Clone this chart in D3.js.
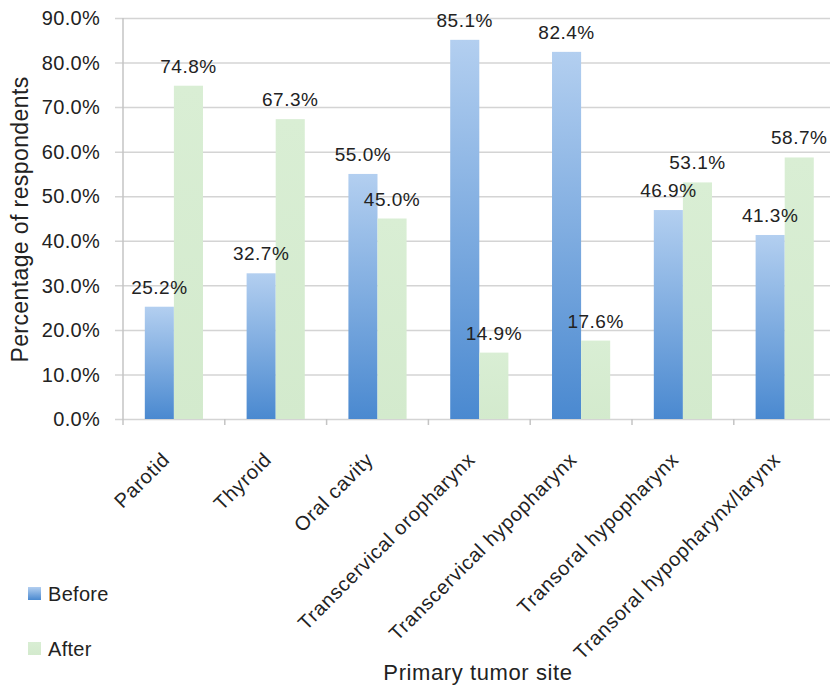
<!DOCTYPE html>
<html>
<head>
<meta charset="utf-8">
<script src="https://cdn.jsdelivr.net/npm/d3@7"></script>
<style>
  body { margin: 0; background: #fff; }
  text { font-family: "Liberation Sans", Arial, sans-serif; fill: #222; }
</style>
</head>
<body>
<svg id="chart" width="830" height="685"></svg>
<script>
const categories = [
  "Parotid",
  "Thyroid",
  "Oral cavity",
  "Transcervical oropharynx",
  "Transcervical hypopharynx",
  "Transoral hypopharynx",
  "Transoral hypopharynx/larynx",
];
const seriesNames = ["Before", "After"];
const beforeValues = [25.2, 32.7, 55.0, 85.1, 82.4, 46.9, 41.3];
const afterValues = [74.8, 67.3, 45.0, 14.9, 17.6, 53.1, 58.7];
const yTicks = [0, 10, 20, 30, 40, 50, 60, 70, 80, 90];

const svg = d3.select("#chart");
const plotLeft = 123, plotTop = 18, plotBottom = 419;
const step = 101.8;

const x0 = d3.scaleBand()
  .domain(categories)
  .range([plotLeft, plotLeft + step * categories.length])
  .padding(0);

const x1 = d3.scaleBand()
  .domain(seriesNames)
  .range([0, x0.bandwidth()])
  .paddingInner(0)
  .paddingOuter(0.75);

const y = d3.scaleLinear().domain([0, 90]).range([plotBottom, plotTop]);

// gradients
const defs = svg.append("defs");
const gBlue = defs.append("linearGradient")
  .attr("id", "blueGrad").attr("x1", 0).attr("y1", 0).attr("x2", 0).attr("y2", 1);
gBlue.append("stop").attr("offset", "0%").attr("stop-color", "#b3cff0");
gBlue.append("stop").attr("offset", "100%").attr("stop-color", "#4a89d0");
const gGreen = defs.append("linearGradient")
  .attr("id", "greenGrad").attr("x1", 0).attr("y1", 0).attr("x2", 0).attr("y2", 1);
gGreen.append("stop").attr("offset", "0%").attr("stop-color", "#d9eed4");
gGreen.append("stop").attr("offset", "100%").attr("stop-color", "#d3eacd");

// gridlines
svg.append("g")
  .attr("transform", `translate(${plotLeft},0)`)
  .call(d3.axisLeft(y).tickValues(yTicks).tickSize(-(830 - plotLeft)).tickSizeOuter(0).tickFormat(""))
  .call(g => g.select(".domain").remove())
  .call(g => g.selectAll(".tick line").attr("stroke", "#d4d4d4").attr("stroke-width", 1.5).attr("x1", -8));

// y axis line
svg.append("line")
  .attr("x1", plotLeft).attr("x2", plotLeft).attr("y1", plotTop).attr("y2", plotBottom)
  .attr("stroke", "#c4c4c4").attr("stroke-width", 1.5);

// y tick labels
svg.append("g")
  .selectAll("text")
  .data(yTicks)
  .join("text")
  .attr("x", 100)
  .attr("y", d => y(d))
  .attr("dy", "0.36em")
  .attr("text-anchor", "end")
  .style("font-size", "20px")
  .style("letter-spacing", "0.3px")
  .text(d => d3.format(".1f")(d) + "%");

// x axis ticks
const bounds = categories.map(c => x0(c)).concat([x0.range()[1]]);
svg.append("g")
  .selectAll("line")
  .data(bounds)
  .join("line")
  .attr("x1", d => d).attr("x2", d => d)
  .attr("y1", plotBottom).attr("y2", plotBottom + 6)
  .attr("stroke", "#c4c4c4").attr("stroke-width", 1.5);

// bars
const rows = categories.map((c, i) => ({ cat: c, Before: beforeValues[i], After: afterValues[i] }));
const groups = svg.append("g")
  .selectAll("g")
  .data(rows)
  .join("g")
  .attr("transform", d => `translate(${x0(d.cat)},0)`);

groups.selectAll("rect")
  .data(d => seriesNames.map(s => ({ s, v: d[s] })))
  .join("rect")
  .attr("x", d => x1(d.s))
  .attr("y", d => y(d.v))
  .attr("width", x1.bandwidth())
  .attr("height", d => plotBottom - y(d.v))
  .attr("fill", d => d.s === "Before" ? "url(#blueGrad)" : "url(#greenGrad)");

groups.selectAll("text")
  .data(d => seriesNames.map(s => ({ s, v: d[s] })))
  .join("text")
  .attr("x", d => x1(d.s) + x1.bandwidth() / 2)
  .attr("y", d => y(d.v) - 13)
  .attr("text-anchor", "middle")
  .style("font-size", "19px")
  .style("letter-spacing", "0.5px")
  .text(d => d3.format(".1f")(d.v) + "%");

// category labels
svg.append("g")
  .selectAll("text")
  .data(categories)
  .join("text")
  .attr("transform", d => `translate(${x0(d) + x0.bandwidth() / 2 - 3},${461}) rotate(-45)`)
  .attr("text-anchor", "end")
  .style("font-size", "20px")
  .style("letter-spacing", "0.7px")
  .text(d => d);

// axis titles
svg.append("text")
  .attr("transform", `translate(28,${(77 + 362) / 2}) rotate(-90)`)
  .attr("text-anchor", "middle")
  .style("font-size", "23px")
  .style("letter-spacing", "0.4px")
  .text("Percentage of respondents");

svg.append("text")
  .attr("x", 478)
  .attr("y", 680)
  .attr("text-anchor", "middle")
  .style("font-size", "22px")
  .style("letter-spacing", "0.6px")
  .text("Primary tumor site");

// legend
const legend = svg.append("g")
  .selectAll("g")
  .data(seriesNames)
  .join("g")
  .attr("transform", (d, i) => `translate(28,${587 + i * 55})`);

legend.append("rect")
  .attr("width", 13).attr("height", 13)
  .attr("fill", d => d === "Before" ? "url(#blueGrad)" : "url(#greenGrad)");

legend.append("text")
  .attr("x", 20)
  .attr("y", 14)
  .style("font-size", "20px")
  .style("letter-spacing", "0.3px")
  .text(d => d);
</script>
</body>
</html>
